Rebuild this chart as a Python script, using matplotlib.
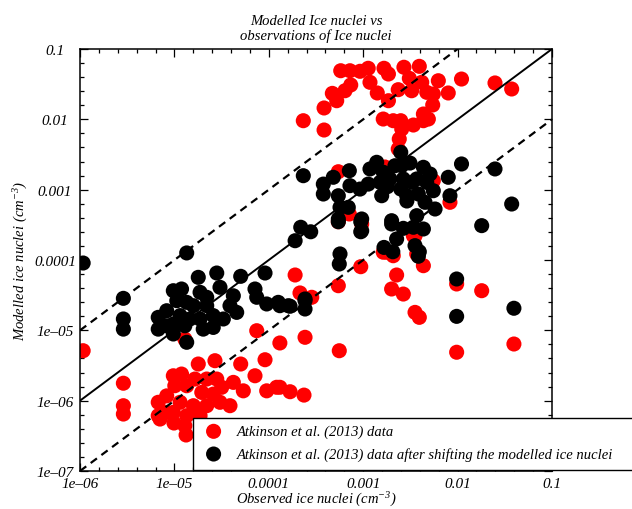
import numpy as np
import matplotlib
matplotlib.use('Agg')
import matplotlib.pyplot as plt
from matplotlib.ticker import FixedLocator, FixedFormatter, NullFormatter
from matplotlib.patches import Rectangle

plt.rcParams['font.family'] = ['Liberation Serif', 'DejaVu Serif']
plt.rcParams['font.style'] = 'italic'
plt.rcParams['mathtext.fontset'] = 'custom'
plt.rcParams['mathtext.rm'] = 'Liberation Serif:italic'
plt.rcParams['mathtext.it'] = 'Liberation Serif:italic'

# Atkinson et al. (2013) data: observed vs modelled ice nuclei (cm-3)
red_obs = [2.32e-4, 3.85e-4, 3.85e-4, 4.71e-4, 5.24e-4, 5.78e-4, 7.24e-4, 6.41e-4, 7.38e-4, 9.25e-4,
           1.13e-3, 1.18e-3, 1.41e-3, 1.66e-3, 1.85e-3, 1.85e-3, 2.35e-3, 2.70e-3, 3.08e-3, 3.26e-3,
           3.93e-3, 4.17e-3, 4.71e-3, 5.53e-3, 5.45e-3, 6.25e-3, 7.96e-3, 1.10e-2, 2.49e-2, 3.74e-2,
           1.63e-3, 2.08e-3, 2.50e-3, 2.56e-3, 3.40e-3, 4.34e-3, 4.90e-3, 4.34e-3, 2.41e-3, 2.35e-3,
           5.45e-4, 7.13e-4, 5.45e-4, 9.64e-4, 5.53e-3, 8.30e-3, 3.40e-3, 1.77e-3, 1.70e-3,
           1.90e-4, 2.14e-4, 2.85e-4, 1.31e-4, 2.42e-4, 5.58e-4, 5.45e-4, 9.42e-4, 1.63e-3, 2.08e-3,
           2.26e-3, 2.00e-3, 2.66e-3, 3.54e-3, 3.93e-3, 4.34e-3, 3.69e-3, 3.54e-3, 9.77e-3, 9.77e-3,
           1.80e-2, 3.95e-2, 1.31e-4, 1.68e-4, 2.36e-4,
           1.08e-6, 2.88e-6, 2.88e-6, 2.88e-6, 2.69e-5, 5.04e-5, 9.12e-5, 7.45e-5, 7.14e-5, 4.21e-5,
           5.37e-5, 3.17e-5, 9.5e-5, 1.21e-4,
           6.74e-6, 6.74e-6, 8.29e-6, 9.74e-6, 1.19e-5, 1.01e-5, 1.35e-5, 1.79e-5, 1.65e-5, 1.95e-5,
           2.58e-5, 3.04e-5, 2.20e-5, 1.59e-5, 1.15e-5, 9.74e-6, 1.29e-5, 1.87e-5, 1.35e-5, 3.88e-5,
           2.20e-5, 8.29e-6, 2.81e-5, 7.04e-6, 9.9e-6, 1.33e-5, 1.29e-5]
red_mod = [9.56e-3, 1.45e-2, 7.05e-3, 2.34e-2, 1.84e-2, 4.91e-2, 4.91e-2, 2.55e-2, 3.08e-2, 4.82e-2,
           5.32e-2, 3.36e-2, 2.37e-2, 5.32e-2, 4.41e-2, 1.84e-2, 2.64e-2, 5.50e-2, 3.83e-2, 2.55e-2,
           5.67e-2, 3.36e-2, 2.42e-2, 2.29e-2, 1.60e-2, 3.54e-2, 2.37e-2, 3.74e-2, 3.29e-2, 2.70e-2,
           1.01e-2, 9.56e-3, 9.56e-3, 7.29e-3, 8.30e-3, 9.56e-3, 1.01e-2, 1.19e-2, 5.25e-3, 3.79e-3,
           1.80e-3, 4.51e-4, 3.50e-4, 3.25e-4, 1.34e-3, 6.61e-4, 2.21e-4, 1.29e-4, 2.10e-3,
           6.12e-5, 3.40e-5, 2.95e-5, 6.61e-6, 7.96e-6, 5.13e-6, 4.31e-5, 8.03e-5, 1.29e-4, 1.15e-4,
           6.12e-5, 3.87e-5, 3.28e-5, 1.80e-5, 1.53e-5, 8.30e-5, 1.22e-4, 2.21e-4, 4.56e-5, 4.88e-6,
           3.66e-5, 6.39e-6, 1.55e-6, 1.34e-6, 1.20e-6,
           5.13e-6, 1.77e-6, 8.48e-7, 6.45e-7, 3.70e-6, 3.32e-6, 3.82e-6, 9.88e-6, 2.26e-6, 1.82e-6,
           1.38e-6, 1.55e-6, 1.38e-6, 1.55e-6,
           9.48e-7, 6.11e-7, 1.17e-6, 2.26e-6, 2.39e-6, 1.63e-6, 1.63e-6, 3.32e-6, 2.03e-6, 1.31e-6,
           1.24e-6, 9.48e-7, 8.48e-7, 8.48e-7, 9.48e-7, 6.82e-7, 4.41e-7, 6.11e-7, 6.11e-7, 8.48e-7,
           2.03e-6, 6.82e-7, 2.03e-6, 5.48e-7, 4.81e-7, 3.25e-7, 7.5e-6]

# same data after shifting the modelled ice nuclei
blk_obs = [1.08e-6, 1.35e-5, 2.88e-6, 2.88e-6, 2.88e-6, 1.79e-5, 2.81e-5, 5.04e-5, 9.12e-5, 1.90e-4,
           3.04e-5, 4.21e-5, 7.14e-5, 7.45e-5, 9.5e-5, 1.26e-4, 1.61e-4, 2.42e-4, 2.42e-4,
           6.74e-6, 6.74e-6, 8.29e-6, 9.74e-6, 9.74e-6, 1.19e-5, 1.06e-5, 1.35e-5, 1.29e-5, 1.59e-5,
           1.87e-5, 2.02e-5, 2.20e-5, 2.58e-5, 1.87e-5, 1.46e-5, 1.15e-5, 2.20e-5, 3.88e-5, 4.57e-5,
           3.30e-5, 9.74e-6, 1.35e-5, 8.29e-6, 2.58e-5,
           5.58e-4, 1.66e-3, 2.06e-3, 2.26e-3, 3.54e-3, 3.93e-3, 9.77e-3, 9.77e-3, 3.95e-2, 1.80e-2,
           1.31e-4, 1.68e-4, 2.42e-4, 2.18e-4, 2.78e-4, 5.45e-4, 9.42e-4, 9.42e-4, 2.00e-3, 2.66e-3,
           3.40e-3, 4.34e-3,
           2.32e-4, 7.13e-4, 3.78e-4, 4.82e-4, 3.78e-4, 5.45e-4, 7.24e-4, 9.25e-4, 1.13e-3, 1.18e-3,
           1.39e-3, 1.63e-3, 1.51e-3, 1.57e-3, 1.92e-3, 2.17e-3, 2.50e-3, 2.56e-3, 3.13e-3, 2.66e-3,
           2.89e-3, 3.69e-3, 4.34e-3, 5.11e-3, 4.71e-3, 3.84e-3, 5.53e-3, 5.77e-3, 4.52e-3, 8.30e-3,
           7.96e-3, 1.10e-2, 2.49e-2, 3.74e-2, 5.68e-4, 5.45e-4, 6.95e-4, 9.64e-4, 9.64e-4, 2.00e-3,
           3.69e-3, 5.68e-4, 2.90e-3, 2.50e-3, 1.80e-3, 3.30e-3, 3.84e-3]
blk_mod = [9.06e-5, 1.26e-4, 2.85e-5, 1.45e-5, 1.04e-5, 5.67e-5, 6.53e-5, 5.86e-5, 6.53e-5, 1.88e-4,
           4.09e-5, 3.10e-5, 3.87e-5, 2.95e-5, 2.37e-5, 2.50e-5, 2.24e-5, 2.79e-5, 2.01e-5,
           1.53e-5, 1.04e-5, 1.90e-5, 8.87e-6, 3.66e-5, 3.87e-5, 2.64e-5, 6.76e-6, 1.16e-5, 2.24e-5,
           1.45e-5, 1.04e-5, 2.95e-5, 1.62e-5, 3.47e-5, 1.45e-5, 1.62e-5, 2.24e-5, 2.24e-5, 1.80e-5,
           1.45e-5, 1.23e-5, 2.50e-5, 1.16e-5, 1.10e-5,
           8.77e-5, 1.51e-4, 1.31e-4, 1.99e-4, 1.60e-4, 1.31e-4, 5.37e-5, 1.58e-5, 2.06e-5, 3.08e-4,
           2.24e-5, 2.20e-5, 2.64e-5, 2.92e-4, 2.52e-4, 3.50e-4, 3.50e-4, 2.52e-4, 3.25e-4, 2.82e-4,
           2.92e-4, 2.76e-4,
           1.58e-3, 1.86e-3, 1.20e-3, 1.50e-3, 8.67e-4, 8.20e-4, 1.14e-3, 1.02e-3, 1.20e-3, 1.97e-3,
           2.45e-3, 1.77e-3, 1.27e-3, 8.20e-4, 1.42e-3, 2.19e-3, 3.40e-3, 2.19e-3, 2.39e-3, 1.42e-3,
           8.20e-4, 1.42e-3, 2.08e-3, 1.67e-3, 1.27e-3, 8.67e-4, 9.66e-4, 5.31e-4, 6.61e-4, 8.20e-4,
           1.50e-3, 2.32e-3, 1.97e-3, 6.25e-4, 5.61e-4, 3.83e-4, 5.61e-4, 3.83e-4, 2.61e-4, 3.62e-4,
           4.27e-4, 1.22e-4, 6.90e-4, 1.02e-3, 1.10e-3, 1.27e-3, 1.13e-4]

one_to_one = [1e-6, 1e-1]
x_ticks = [1e-6, 1e-5, 1e-4, 1e-3, 1e-2, 1e-1]
x_labels = ['1e\u201306', '1e\u201305', '0.0001', '0.001', '0.01', '0.1']
y_ticks = [1e-7, 1e-6, 1e-5, 1e-4, 1e-3, 1e-2, 1e-1]
y_labels = ['1e\u201307', '1e\u201306', '1e\u201305', '0.0001', '0.001', '0.01', '0.1']

fig = plt.figure(figsize=(6.32, 5.10), dpi=100)
ax = fig.add_axes([80 / 632, 1 - 472 / 510, 472 / 632, 422 / 510])

ms = 118
ax.scatter(red_obs, red_mod, s=ms, c='#ff0000', edgecolors='none', zorder=2)
x1 = np.array(one_to_one)
ax.plot(x1, x1, color='k', lw=1.4, zorder=3)
ax.plot(x1, x1 * 10, color='k', lw=1.6, ls=(0, (3.5, 2.5)), zorder=3)
ax.plot(x1, x1 / 10, color='k', lw=1.6, ls=(0, (3.5, 2.5)), zorder=3)
ax.scatter(blk_obs, blk_mod, s=ms, c='k', edgecolors='none', zorder=4)

ax.set_xscale('log')
ax.set_yscale('log')
ax.set_xlim(1e-6, 1e-1)
ax.set_ylim(1e-7, 1e-1)

ax.xaxis.set_major_locator(FixedLocator(x_ticks))
ax.xaxis.set_major_formatter(FixedFormatter(x_labels))
ax.yaxis.set_major_locator(FixedLocator(y_ticks))
ax.yaxis.set_major_formatter(FixedFormatter(y_labels))
ax.xaxis.set_minor_locator(FixedLocator(10 ** np.arange(-6, -1.001, 0.2)))
ax.yaxis.set_minor_locator(FixedLocator(10 ** np.arange(-7, -1.001, 0.2)))
ax.xaxis.set_minor_formatter(NullFormatter())
ax.yaxis.set_minor_formatter(NullFormatter())

ax.tick_params(which='both', direction='in', top=True, right=True, width=0.9, labelsize=11)
ax.tick_params(which='major', length=6)
ax.tick_params(which='minor', length=3.2)
ax.tick_params(axis='x', pad=4)
ax.tick_params(axis='y', pad=18)
for lab in ax.get_yticklabels():
    lab.set_horizontalalignment('center')
for sp in ax.spines.values():
    sp.set_linewidth(1.1)

ax.set_title('Modelled Ice nuclei vs\nobservations of Ice nuclei', fontsize=10.5, pad=7,
             linespacing=1.15)
ax.set_xlabel('Observed ice nuclei (cm$^{-3}$)', fontsize=10.5, labelpad=0)
ax.set_ylabel('Modelled ice nuclei (cm$^{-3}$)', fontsize=10.5, labelpad=3)

# legend box runs off the right edge of the figure
box = Rectangle((193 / 632, 1 - 471 / 510), 0.8, 52 / 510, transform=fig.transFigure,
                facecolor='white', edgecolor='k', lw=1.0, zorder=3)
fig.add_artist(box)
h1 = ax.scatter([], [], s=ms, c='#ff0000', edgecolors='none')
h2 = ax.scatter([], [], s=ms, c='k', edgecolors='none')
fig.legend([h1, h2], ['Atkinson et al. (2013) data',
                      'Atkinson et al. (2013) data after shifting the modelled ice nuclei'],
           loc='upper left', bbox_to_anchor=(199 / 632, 1 - 420 / 510), borderaxespad=0,
           frameon=False, fontsize=10.5, handlelength=1.2, handletextpad=1.0,
           labelspacing=0.6, borderpad=0.4, scatterpoints=1).set_zorder(5)

fig.savefig('out.png', dpi=100)
